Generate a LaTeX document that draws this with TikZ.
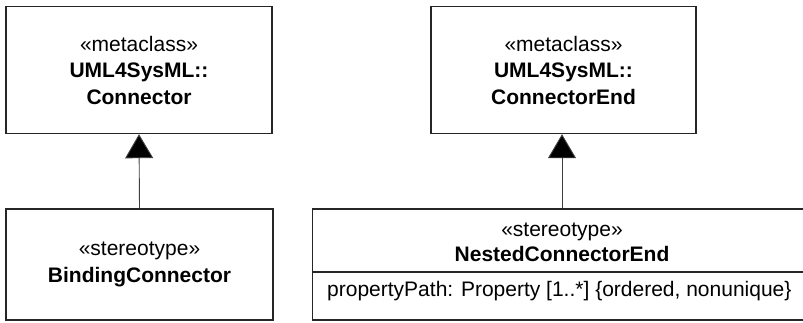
\documentclass[tikz,border=0pt]{standalone}
\usepackage{fontspec}
\setmainfont{Liberation Sans}
\usetikzlibrary{arrows.meta,calc}
\begin{document}
\begin{tikzpicture}[x=1pt,y=-1pt,
  umlbox/.style={draw=black!85,line width=1.4pt,rectangle,inner sep=0pt,align=center,
    font=\fontsize{21}{26.5}\selectfont},
  plainline/.style={draw=black!85,line width=1.2pt},
  gen/.style={draw=black!75,line width=0.9pt,-{Triangle[width=28pt,length=24pt,fill=black]}}]
\useasboundingbox (0,0) rectangle (803,322);
\clip (0,0) rectangle (803,322);
\node[umlbox,minimum width=266pt,minimum height=127pt] (lt) at (139,70)
  {«metaclass»\\\textbf{UML4SysML::}\\\textbf{Connector}};
\node[umlbox,minimum width=267pt,minimum height=111pt] (lb) at (139.5,264.5)
  {«stereotype»\\\textbf{BindingConnector}};
\node[umlbox,minimum width=265pt,minimum height=127pt] (rt) at (563.5,70)
  {«metaclass»\\\textbf{UML4SysML::}\\\textbf{ConnectorEnd}};
\node[umlbox,minimum width=540pt,minimum height=111pt,anchor=west] (rb) at (312,264.5) {};
\node[font=\fontsize{21}{25}\selectfont,align=center,inner sep=0pt] (rbh) at (562,242)
  {«stereotype»\\\textbf{NestedConnectorEnd}};
\coordinate (divl) at (312,272);
\draw[plainline] (divl) -- (divl -| rb.east);
\node[font=\fontsize{21}{25}\selectfont,anchor=west,inner sep=0pt] (attr) at (327,291)
  {propertyPath: Property [1..*] \{ordered, nonunique\}};
\draw[gen] (lb.north) -- (lt.south);
\draw[gen] (rbh.north |- rb.north) -- (rbh.north |- rt.south);
\end{tikzpicture}
\end{document}
